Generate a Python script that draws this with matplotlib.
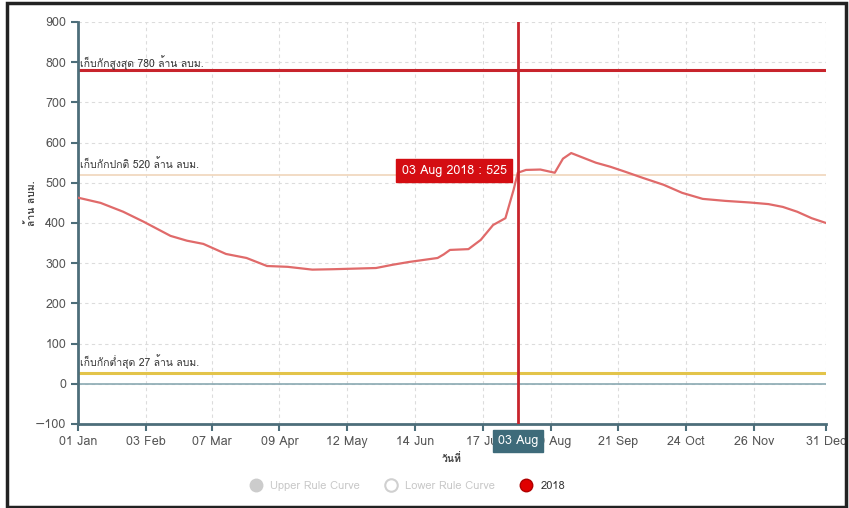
import matplotlib
matplotlib.use('Agg')
import matplotlib.pyplot as plt
from matplotlib import font_manager
from matplotlib.lines import Line2D
from matplotlib.patches import Rectangle

# pick a font that has Thai glyphs, if one is installed
thai_fonts = []
for f in font_manager.fontManager.ttflist:
    try:
        cmap = font_manager.get_font(f.fname).get_charmap()
    except Exception:
        continue
    if 0x0E01 in cmap and f.name not in thai_fonts:
        thai_fonts.append(f.name)
plt.rcParams['font.family'] = thai_fonts[:1] + ['DejaVu Sans']

# storage (million m3), x = day of year 2018
DAYS = [0, 11, 22, 32, 45, 53, 61, 72, 82, 92, 102, 114, 124, 145, 153, 161,
        175, 178, 181, 190, 196, 202, 208, 212, 214, 218, 225, 232, 236, 240,
        246, 252, 259, 266, 275, 285, 294, 304, 315, 327, 336, 343, 350, 357,
        364]
STORAGE = [463, 450, 428, 403, 368, 356, 348, 323, 313, 293, 291, 284, 285,
           288, 296, 303, 313, 322, 333, 335, 358, 395, 412, 483, 525, 532,
           533, 525, 560, 574, 562, 550, 540, 528, 512, 495, 475, 460, 455,
           451, 447, 440, 428, 412, 400]

TICK_DAYS = [0, 33, 65, 98, 131, 164, 197, 230, 263, 296, 329, 364]
TICK_LABELS = ['01 Jan', '03 Feb', '07 Mar', '09 Apr', '12 May', '14 Jun',
               '17 Jul', '19 Aug', '21 Sep', '24 Oct', '26 Nov', '31 Dec']

MAX_LEVEL = 780
NORMAL_LEVEL = 520
MIN_LEVEL = 27
CURSOR_DAY = 214
CURSOR_VALUE = 525

AXIS_COLOR = '#4d6e7a'

fig = plt.figure(figsize=(8.49, 5.08), dpi=100)
ax = fig.add_axes([78 / 849, 1 - 424 / 508, 748 / 849, 402 / 508])

ax.set_xlim(0, 364)
ax.set_ylim(-100, 900)
ax.set_yticks(range(-100, 901, 100))
ax.set_xticks(TICK_DAYS)
ax.set_xticklabels(TICK_LABELS)

ax.grid(True, color='#dcdcdc', linestyle=(0, (3, 3)), linewidth=0.8)
ax.set_axisbelow(True)
for side in ['top', 'right']:
    ax.spines[side].set_visible(False)
for side in ['left', 'bottom']:
    ax.spines[side].set_color(AXIS_COLOR)
    ax.spines[side].set_linewidth(2)
ax.tick_params(colors=AXIS_COLOR, width=1.5, length=5, labelsize=9,
               labelcolor='#555555')

# reference levels
ax.axhline(0, color='#8aa9b2', lw=1.2, zorder=2)
ax.axhline(MAX_LEVEL, color='#c8242c', lw=2.2, zorder=2)
ax.axhline(NORMAL_LEVEL, color='#f1d9c0', lw=1.3, zorder=2)
ax.axhline(MIN_LEVEL, color='#e3c44a', lw=2.2, zorder=2)
ax.text(1, MAX_LEVEL + 8, 'เก็บกักสูงสุด 780 ล้าน ลบม.', fontsize=7.5, color='#333333')
ax.text(1, NORMAL_LEVEL + 16, 'เก็บกักปกติ 520 ล้าน ลบม.', fontsize=7.5, color='#333333')
ax.text(1, MIN_LEVEL + 16, 'เก็บกักต่ำสุด 27 ล้าน ลบม.', fontsize=7.5, color='#333333')

ax.plot(DAYS, STORAGE, color='#e06a6a', lw=1.6, zorder=3)

# cursor line and tooltips
ax.axvline(CURSOR_DAY, color='#c8242c', lw=2, zorder=4)
ax.annotate('03 Aug 2018 : %d' % CURSOR_VALUE, xy=(CURSOR_DAY, CURSOR_VALUE + 5),
            xytext=(-8, 0), textcoords='offset points', ha='right', va='center',
            color='white', fontsize=9, zorder=6,
            bbox=dict(boxstyle='square,pad=0.45', fc='#d40d12', ec='#d40d12'))
ax.annotate('03 Aug', xy=(CURSOR_DAY, -100), xytext=(0, -12),
            textcoords='offset points', ha='center', va='center',
            color='white', fontsize=9, zorder=6, annotation_clip=False,
            bbox=dict(boxstyle='square,pad=0.4', fc='#3e6b7a', ec='#3e6b7a'))

ax.set_xlabel('วันที่', fontsize=7.5, color='#444444', fontweight='bold', labelpad=4)
ax.set_ylabel('ล้าน ลบม.', fontsize=7.5, color='#444444', fontweight='bold')
ax.yaxis.set_label_coords(-0.055, 0.55)

# legend
handles = [
    Line2D([], [], ls='none', marker='o', ms=9, mfc='#cccccc', mec='#cccccc'),
    Line2D([], [], ls='none', marker='o', ms=9, mfc='white', mec='#d0d0d0', mew=1.5),
    Line2D([], [], ls='none', marker='o', ms=9, mfc='#e00000', mec='#b00000'),
]
leg = fig.legend(handles, ['Upper Rule Curve', 'Lower Rule Curve', '2018'],
                 loc='center', bbox_to_anchor=(405 / 849, 1 - 486 / 508),
                 ncol=3, frameon=False, fontsize=8, handletextpad=0.3,
                 columnspacing=1.8)
for t, c in zip(leg.get_texts(), ['#c8c8c8', '#c8c8c8', '#333333']):
    t.set_color(c)

# outer frame
fig.patches.append(Rectangle((7 / 849, 1 / 508), 839 / 849, 504 / 508,
                             transform=fig.transFigure, fill=False,
                             ec='#222222', lw=2.5))

fig.savefig('out.png', dpi=100)
